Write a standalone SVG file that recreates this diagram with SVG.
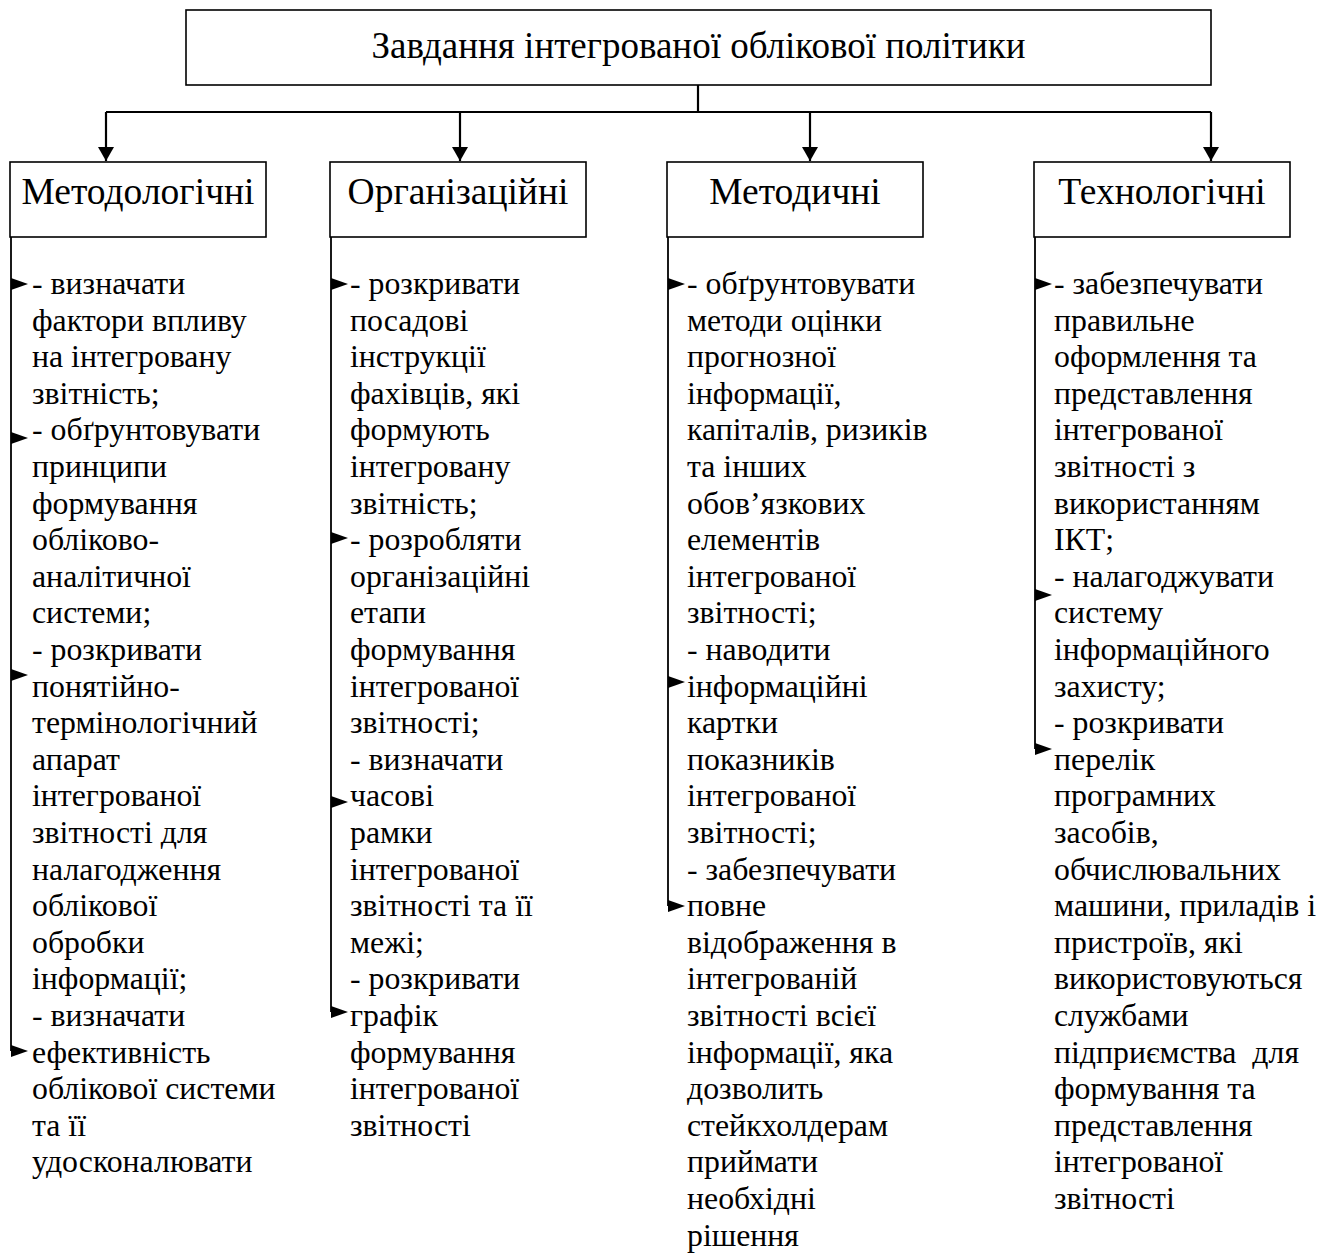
<svg xmlns="http://www.w3.org/2000/svg" width="1338" height="1253" viewBox="0 0 1338 1253">
<style>
.box{fill:#fff;stroke:#000;stroke-width:1.6}
.title{font-family:"Liberation Serif","Times New Roman",serif;font-size:37px;fill:#000;text-anchor:middle}
.head{font-family:"Liberation Serif","Times New Roman",serif;font-size:37.5px;fill:#000;text-anchor:middle}
.body{font-family:"Liberation Serif","Times New Roman",serif;font-size:31.8px;fill:#000}
.conn{fill:none;stroke:#000;stroke-width:2.2}
.vline{fill:none;stroke:#000;stroke-width:1.8}
.tri{fill:#000}
</style>
<defs>
<marker id="ah" viewBox="0 0 14 16" refX="14" refY="8" markerWidth="14" markerHeight="16" markerUnits="userSpaceOnUse" orient="auto">
<path d="M0,0 L14,8 L0,16 Z" fill="#000"/>
</marker>
</defs>
<rect width="1338" height="1253" fill="#fff"/>
<g id="connectors">
<path class="conn" d="M698,85 V112"/>
<path class="conn" d="M106,112 H1211"/>
<path class="conn" d="M106,112 V161" marker-end="url(#ah)"/>
<path class="conn" d="M460,112 V161" marker-end="url(#ah)"/>
<path class="conn" d="M810,112 V161" marker-end="url(#ah)"/>
<path class="conn" d="M1211,112 V161" marker-end="url(#ah)"/>
<path class="vline" d="M11,237 V1051"/>
<path class="vline" d="M331,237 V1012"/>
<path class="vline" d="M668,237 V906"/>
<path class="vline" d="M1035,237 V749"/>
<g class="tri">
<path d="M11,278 L28,284 L11,290 Z"/>
<path d="M11,432 L28,438 L11,444 Z"/>
<path d="M11,669 L28,675 L11,681 Z"/>
<path d="M11,1045 L28,1051 L11,1057 Z"/>
<path d="M331,278 L348,284 L331,290 Z"/>
<path d="M331,532 L348,538 L331,544 Z"/>
<path d="M331,796 L348,802 L331,808 Z"/>
<path d="M331,1006 L348,1012 L331,1018 Z"/>
<path d="M668,278 L685,284 L668,290 Z"/>
<path d="M668,676 L685,682 L668,688 Z"/>
<path d="M668,900 L685,906 L668,912 Z"/>
<path d="M1035,278 L1052,284 L1035,290 Z"/>
<path d="M1035,589 L1052,595 L1035,601 Z"/>
<path d="M1035,743 L1052,749 L1035,755 Z"/>
</g>
</g>
<g id="node-main">
<rect class="box" x="186" y="10" width="1025" height="75"/>
<text class="title" x="698.5" y="58">Завдання інтегрованої облікової політики</text>
</g>
<g id="node-metodologichni">
<rect class="box" x="10" y="162" width="256" height="75"/>
<text class="head" x="138" y="204">Методологічні</text>
<text class="body" x="32" y="294">
<tspan x="32" y="294">- визначати</tspan>
<tspan x="32" dy="36.6">фактори впливу</tspan>
<tspan x="32" dy="36.6">на інтегровану</tspan>
<tspan x="32" dy="36.6">звітність;</tspan>
<tspan x="32" dy="36.6">- обґрунтовувати</tspan>
<tspan x="32" dy="36.6">принципи</tspan>
<tspan x="32" dy="36.6">формування</tspan>
<tspan x="32" dy="36.6">обліково-</tspan>
<tspan x="32" dy="36.6">аналітичної</tspan>
<tspan x="32" dy="36.6">системи;</tspan>
<tspan x="32" dy="36.6">- розкривати</tspan>
<tspan x="32" dy="36.6">понятійно-</tspan>
<tspan x="32" dy="36.6">термінологічний</tspan>
<tspan x="32" dy="36.6">апарат</tspan>
<tspan x="32" dy="36.6">інтегрованої</tspan>
<tspan x="32" dy="36.6">звітності для</tspan>
<tspan x="32" dy="36.6">налагодження</tspan>
<tspan x="32" dy="36.6">облікової</tspan>
<tspan x="32" dy="36.6">обробки</tspan>
<tspan x="32" dy="36.6">інформації;</tspan>
<tspan x="32" dy="36.6">- визначати</tspan>
<tspan x="32" dy="36.6">ефективність</tspan>
<tspan x="32" dy="36.6">облікової системи</tspan>
<tspan x="32" dy="36.6">та її</tspan>
<tspan x="32" dy="36.6">удосконалювати</tspan>
</text>
</g>
<g id="node-organizatsiini">
<rect class="box" x="330" y="162" width="256" height="75"/>
<text class="head" x="458" y="204">Організаційні</text>
<text class="body" x="350" y="294">
<tspan x="350" y="294">- розкривати</tspan>
<tspan x="350" dy="36.6">посадові</tspan>
<tspan x="350" dy="36.6">інструкції</tspan>
<tspan x="350" dy="36.6">фахівців, які</tspan>
<tspan x="350" dy="36.6">формують</tspan>
<tspan x="350" dy="36.6">інтегровану</tspan>
<tspan x="350" dy="36.6">звітність;</tspan>
<tspan x="350" dy="36.6">- розробляти</tspan>
<tspan x="350" dy="36.6">організаційні</tspan>
<tspan x="350" dy="36.6">етапи</tspan>
<tspan x="350" dy="36.6">формування</tspan>
<tspan x="350" dy="36.6">інтегрованої</tspan>
<tspan x="350" dy="36.6">звітності;</tspan>
<tspan x="350" dy="36.6">- визначати</tspan>
<tspan x="350" dy="36.6">часові</tspan>
<tspan x="350" dy="36.6">рамки</tspan>
<tspan x="350" dy="36.6">інтегрованої</tspan>
<tspan x="350" dy="36.6">звітності та її</tspan>
<tspan x="350" dy="36.6">межі;</tspan>
<tspan x="350" dy="36.6">- розкривати</tspan>
<tspan x="350" dy="36.6">графік</tspan>
<tspan x="350" dy="36.6">формування</tspan>
<tspan x="350" dy="36.6">інтегрованої</tspan>
<tspan x="350" dy="36.6">звітності</tspan>
</text>
</g>
<g id="node-metodychni">
<rect class="box" x="667" y="162" width="256" height="75"/>
<text class="head" x="795" y="204">Методичні</text>
<text class="body" x="687" y="294">
<tspan x="687" y="294">- обґрунтовувати</tspan>
<tspan x="687" dy="36.6">методи оцінки</tspan>
<tspan x="687" dy="36.6">прогнозної</tspan>
<tspan x="687" dy="36.6">інформації,</tspan>
<tspan x="687" dy="36.6">капіталів, ризиків</tspan>
<tspan x="687" dy="36.6">та інших</tspan>
<tspan x="687" dy="36.6">обов’язкових</tspan>
<tspan x="687" dy="36.6">елементів</tspan>
<tspan x="687" dy="36.6">інтегрованої</tspan>
<tspan x="687" dy="36.6">звітності;</tspan>
<tspan x="687" dy="36.6">- наводити</tspan>
<tspan x="687" dy="36.6">інформаційні</tspan>
<tspan x="687" dy="36.6">картки</tspan>
<tspan x="687" dy="36.6">показників</tspan>
<tspan x="687" dy="36.6">інтегрованої</tspan>
<tspan x="687" dy="36.6">звітності;</tspan>
<tspan x="687" dy="36.6">- забезпечувати</tspan>
<tspan x="687" dy="36.6">повне</tspan>
<tspan x="687" dy="36.6">відображення в</tspan>
<tspan x="687" dy="36.6">інтегрованій</tspan>
<tspan x="687" dy="36.6">звітності всієї</tspan>
<tspan x="687" dy="36.6">інформації, яка</tspan>
<tspan x="687" dy="36.6">дозволить</tspan>
<tspan x="687" dy="36.6">стейкхолдерам</tspan>
<tspan x="687" dy="36.6">приймати</tspan>
<tspan x="687" dy="36.6">необхідні</tspan>
<tspan x="687" dy="36.6">рішення</tspan>
</text>
</g>
<g id="node-tekhnolohichni">
<rect class="box" x="1034" y="162" width="256" height="75"/>
<text class="head" x="1162" y="204">Технологічні</text>
<text class="body" x="1054" y="294">
<tspan x="1054" y="294">- забезпечувати</tspan>
<tspan x="1054" dy="36.6">правильне</tspan>
<tspan x="1054" dy="36.6">оформлення та</tspan>
<tspan x="1054" dy="36.6">представлення</tspan>
<tspan x="1054" dy="36.6">інтегрованої</tspan>
<tspan x="1054" dy="36.6">звітності з</tspan>
<tspan x="1054" dy="36.6">використанням</tspan>
<tspan x="1054" dy="36.6">ІКТ;</tspan>
<tspan x="1054" dy="36.6">- налагоджувати</tspan>
<tspan x="1054" dy="36.6">систему</tspan>
<tspan x="1054" dy="36.6">інформаційного</tspan>
<tspan x="1054" dy="36.6">захисту;</tspan>
<tspan x="1054" dy="36.6">- розкривати</tspan>
<tspan x="1054" dy="36.6">перелік</tspan>
<tspan x="1054" dy="36.6">програмних</tspan>
<tspan x="1054" dy="36.6">засобів,</tspan>
<tspan x="1054" dy="36.6">обчислювальних</tspan>
<tspan x="1054" dy="36.6">машини, приладів і</tspan>
<tspan x="1054" dy="36.6">пристроїв, які</tspan>
<tspan x="1054" dy="36.6">використовуються</tspan>
<tspan x="1054" dy="36.6">службами</tspan>
<tspan x="1054" dy="36.6" xml:space="preserve">підприємства  для</tspan>
<tspan x="1054" dy="36.6">формування та</tspan>
<tspan x="1054" dy="36.6">представлення</tspan>
<tspan x="1054" dy="36.6">інтегрованої</tspan>
<tspan x="1054" dy="36.6">звітності</tspan>
</text>
</g>
</svg>
